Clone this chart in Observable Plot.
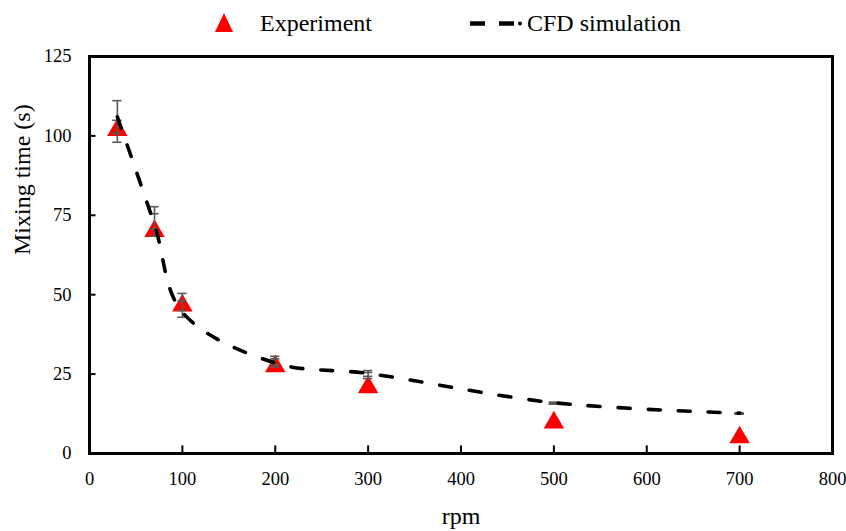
<!DOCTYPE html>
<html>
<head>
<meta charset="utf-8">
<script src="https://cdn.jsdelivr.net/npm/d3@7"></script>
<script src="https://cdn.jsdelivr.net/npm/@observablehq/plot@0.6"></script>
<style>
  body { margin: 0; background: white; }
  #wrap { width: 846px; height: 531px; position: relative; font-family: "Liberation Serif", serif; }
  #legend { position: relative; width: 846px; height: 45px; font-size: 24px; color: black; }
  #legend span { position: absolute; top: 11px; line-height: 24px; white-space: nowrap; }
</style>
</head>
<body>
<div id="wrap">
  <div id="legend">
    <svg width="846" height="45" style="position:absolute;left:0;top:0">
      <polygon points="224,13 215,32 233,32" fill="red"></polygon>
      <line x1="470" y1="23.5" x2="485" y2="23.5" stroke="black" stroke-width="4.5"></line>
      <line x1="499" y1="23.5" x2="514" y2="23.5" stroke="black" stroke-width="4.5"></line>
      <circle cx="520" cy="23.5" r="2" fill="black"></circle>
    </svg>
    <span style="left:260px">Experiment</span>
    <span style="left:527px">CFD simulation</span>
  </div>
  <div id="chart"></div>
</div>
<script>
const rpm = [30, 70, 100, 200, 300, 500, 700];
const experiment = [102.8, 71, 47.5, 28.4, 21.8, 10.7, 6.0];
const cfd = [106, 72, 44.5, 28.5, 25.2, 16, 12.7];
const errLow = [98.0, 68.4, 42.9, 27.2, 23.6, 15.6, 12.4];
const errHigh = [111.1, 77.7, 50.4, 30.6, 26.1, 16.1, 12.8];
const errLowInner = [100.8, 70.7, 45.0, 28.0, 24.3, 15.6, 12.4];
const errHighInner = [104.9, 75.5, 48.0, 29.8, 25.5, 16.1, 12.8];
const xTicks = [0, 100, 200, 300, 400, 500, 600, 700, 800];
const yTicks = [0, 25, 50, 75, 100, 125];

const data = rpm.map((r, i) => ({
  rpm: r, exp: experiment[i], cfd: cfd[i],
  lo: errLow[i], hi: errHigh[i], lo2: errLowInner[i], hi2: errHighInner[i]
}));
const capHalf = 5;
const caps = data.flatMap(d => [d.lo, d.hi, d.lo2, d.hi2].map(v => ({rpm: d.rpm, v})));

const chart = Plot.plot({
  width: 846,
  height: 486,
  marginTop: 11,
  marginBottom: 78,
  marginLeft: 89,
  marginRight: 14,
  x: {domain: [0, 800]},
  y: {domain: [0, 125]},
  style: {fontFamily: "'Liberation Serif', serif", fontSize: "18.5px", color: "black", background: "white"},
  marks: [
    Plot.dot(data, {x: "rpm", y: "exp", symbol: "triangle", r: 7.6, fill: "red", stroke: "none", dy: 3}),
    Plot.ruleX(data, {x: "rpm", y1: "lo", y2: "hi", stroke: "#595959", strokeWidth: 1.6}),
    Plot.ruleY(caps, {y: "v", x1: d => d.rpm - capHalf, x2: d => d.rpm + capHalf, stroke: "#595959", strokeWidth: 1.6}),
    Plot.line(data, {x: "rpm", y: "cfd", curve: "catmull-rom", stroke: "black", strokeWidth: 3.6, strokeDasharray: "12,18", strokeLinecap: "round"}),
    Plot.ruleX(xTicks.slice(1, -1), {x: d => d, y1: 0, y2: 2.4, stroke: "black", strokeWidth: 2}),
    Plot.ruleY(yTicks.slice(1, -1), {y: d => d, x1: 0, x2: 7, stroke: "black", strokeWidth: 2}),
    Plot.frame({stroke: "black", strokeWidth: 3}),
    Plot.axisX(xTicks, {tickSize: 0, tickPadding: 18, label: null}),
    Plot.axisY(yTicks, {tickSize: 0, tickPadding: 18, label: null}),
    Plot.text(["rpm"], {frameAnchor: "bottom", dy: 70, fontSize: 24}),
    Plot.text(["Mixing time (s)"], {frameAnchor: "left", dx: -67, rotate: -90, fontSize: 24})
  ]
});
document.getElementById("chart").appendChild(chart);
</script>
</body>
</html>
